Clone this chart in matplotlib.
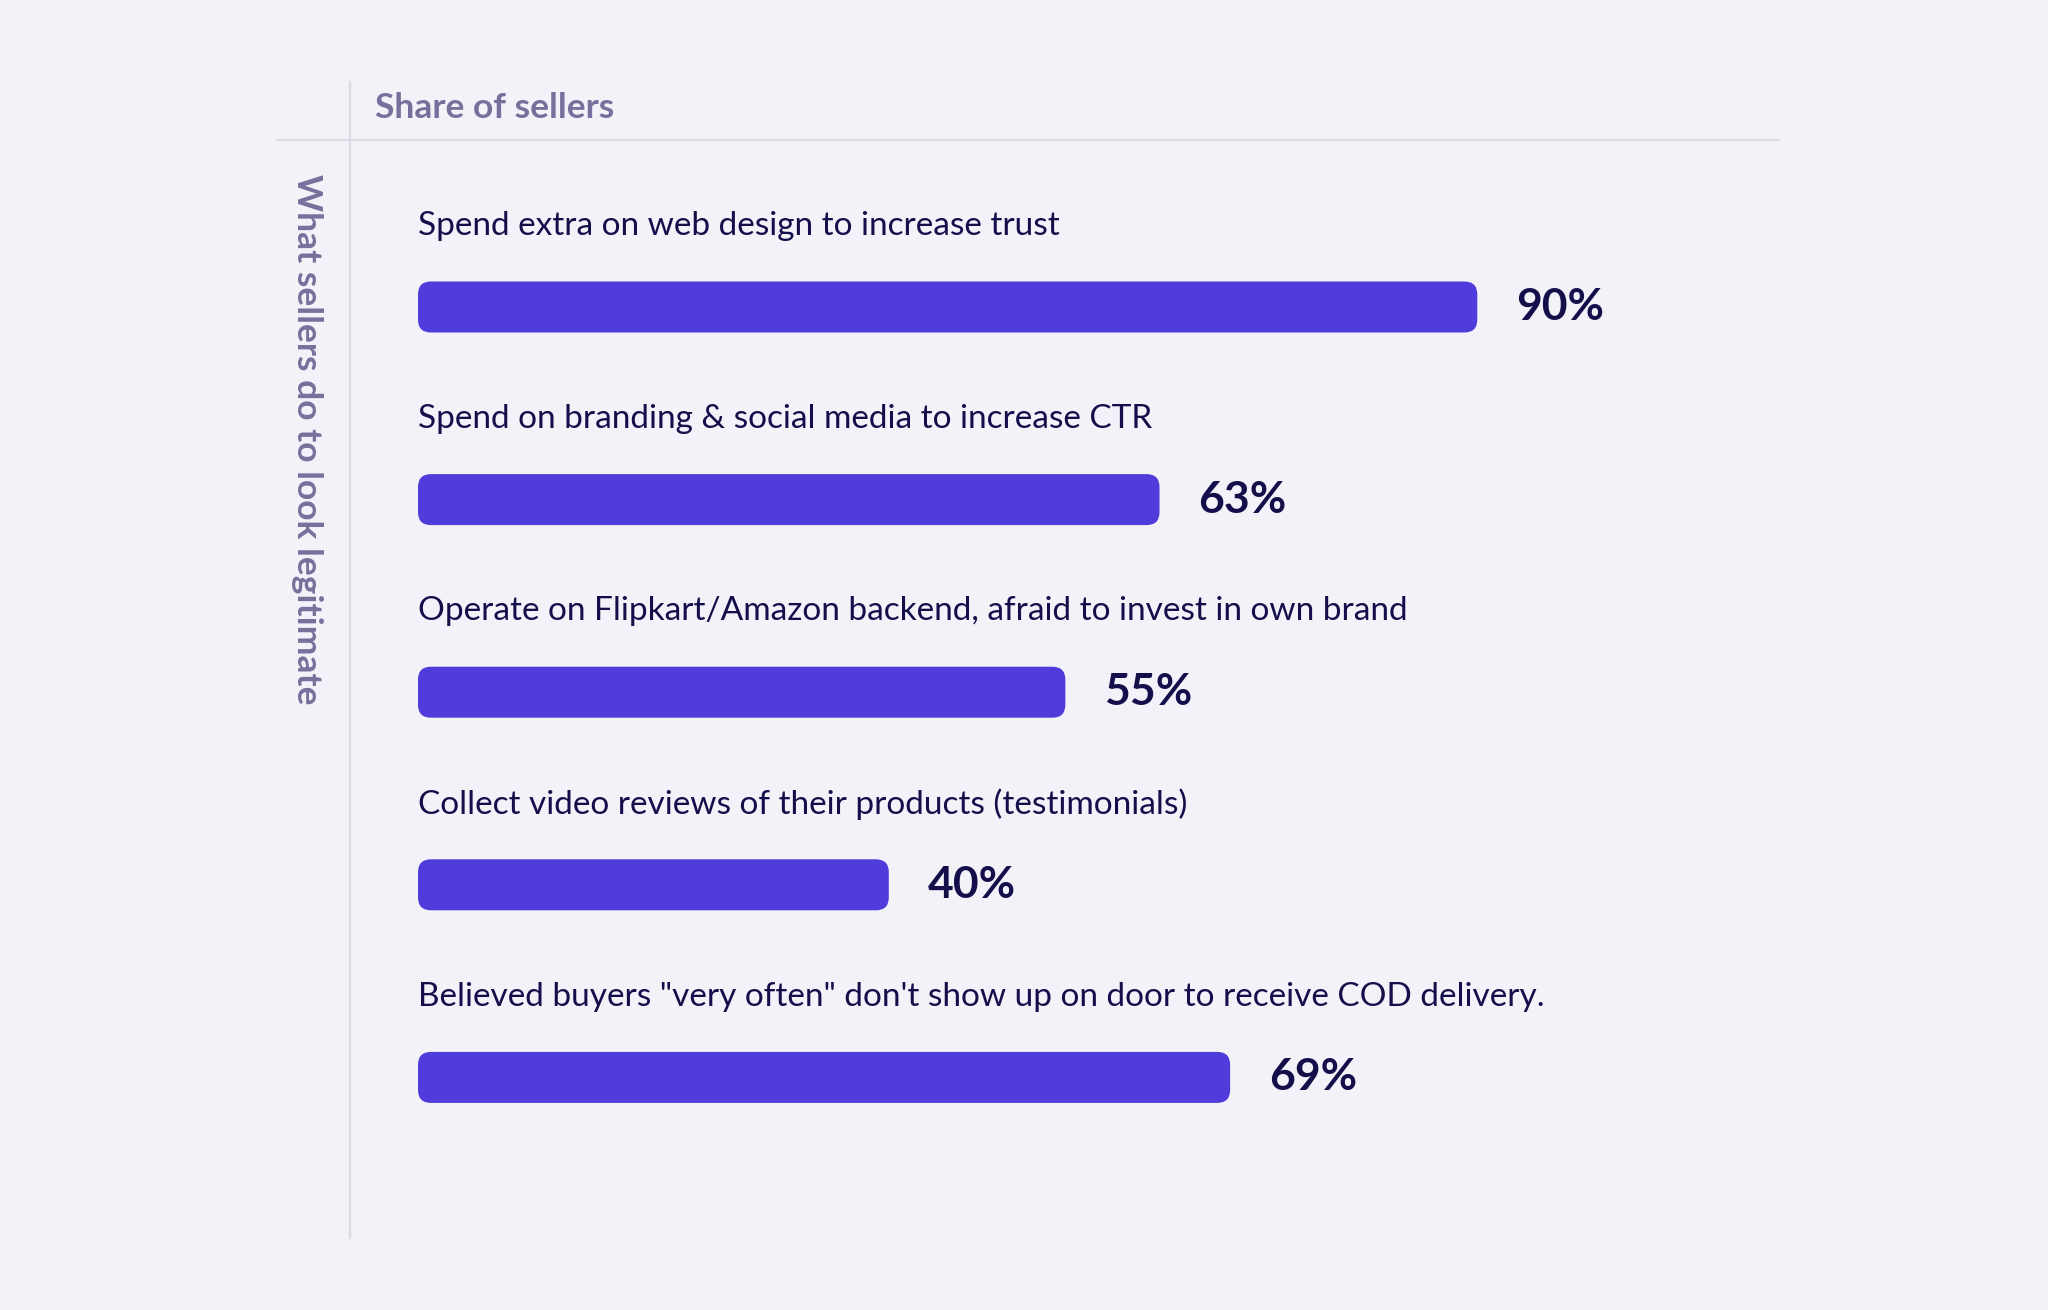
import matplotlib
matplotlib.use("Agg")
import matplotlib.pyplot as plt
from matplotlib.patches import FancyBboxPatch
from matplotlib.lines import Line2D

categories = [
    "Spend extra on web design to increase trust",
    "Spend on branding & social media to increase CTR",
    "Operate on Flipkart/Amazon backend, afraid to invest in own brand",
    "Collect video reviews of their products (testimonials)",
    "Believed buyers \"very often\" don't show up on door to receive COD delivery.",
]
values = [90, 63, 55, 40, 69]
value_labels = [f"{v}%" for v in values]

header = "Share of sellers"
side_label = "What sellers do to look legitimate"

bg = "#f3f2f8"
bar_color = "#4f3cdb"
text_dark = "#140f4b"
text_muted = "#77709c"
rule_color = "#dcdbe4"

W, H = 2048, 1310
fig = plt.figure(figsize=(W / 100, H / 100), dpi=100, facecolor=bg)

# axes: 0..100 % spans pixel 418..1595
x0, x1 = 418, 1595
ax = fig.add_axes([x0 / W, 0, (x1 - x0) / W, 1])
ax.set_facecolor("none")
ax.set_xlim(0, 100)
unit_px = 192.6
top = -307 / unit_px
bottom = (H - 307) / unit_px
ax.set_ylim(bottom, top)
ax.axis("off")

px_x = (x1 - x0) / 100.0
aspect = (1 / unit_px) / (1 / px_x)
bar_h = 51 / unit_px
radius = 13 / px_x

for i, (cat, val, lab) in enumerate(zip(categories, values, value_labels)):
    box = FancyBboxPatch((0, i - bar_h / 2), val, bar_h,
                         boxstyle=f"round,pad=0,rounding_size={radius}",
                         mutation_aspect=aspect, facecolor=bar_color,
                         edgecolor="none")
    ax.add_patch(box)
    ax.text(0, i - 0.42, cat, fontsize=24, family="Lato", color=text_dark,
            va="center", ha="left")
    ax.text(val + 3.3, i, lab, fontsize=32, family="Lato", fontweight="bold",
            color=text_dark, va="center", ha="left")

# frame rules
fig.add_artist(Line2D([350 / W, 350 / W], [1 - 82 / H, 1 - 1238 / H],
                      color=rule_color, lw=1.6))
fig.add_artist(Line2D([277 / W, 1779 / W], [1 - 140 / H, 1 - 140 / H],
                      color=rule_color, lw=1.6))

fig.text(375 / W, 1 - 108 / H, header, fontsize=25.5, family="Lato",
         fontweight="bold", color=text_muted, va="center", ha="left")
fig.text(307 / W, 1 - 174 / H, side_label, fontsize=25.5, family="Lato",
         fontweight="bold", color=text_muted, rotation=-90,
         va="top", ha="center")

fig.savefig("out.png", dpi=100, facecolor=bg)
